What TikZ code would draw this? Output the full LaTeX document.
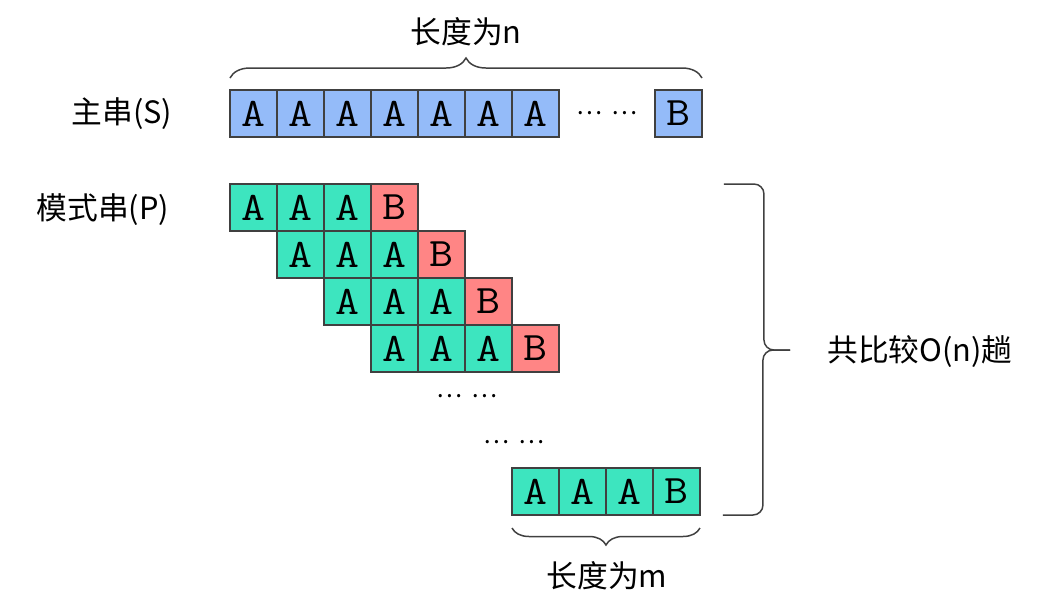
\documentclass[tikz,border=0pt]{standalone}
\usepackage{fontspec}
\setmainfont{Noto Sans CJK SC}
\setmonofont[FakeStretch=1.15]{Latin Modern Mono}
\usepackage{tikz}
\usetikzlibrary{positioning, decorations.pathreplacing, calc}

\definecolor{strblue}{HTML}{94BBF9}
\definecolor{patgreen}{HTML}{3DE5BF}
\definecolor{patred}{HTML}{FF8585}
\definecolor{linegray}{HTML}{404040}

\begin{document}
\begin{tikzpicture}[
  x=0.02cm, y=-0.02cm,
  node distance=0pt,
  cell/.style={draw=linegray, line width=1.1pt, minimum size=0.94cm, inner sep=0pt, outer sep=0pt, anchor=north west, font=\ttfamily\fontsize{23}{23}\selectfont},
  sbox/.style={cell, fill=strblue},
  abox/.style={cell, fill=patgreen},
  bbox/.style={cell, fill=patred},
  tag/.style={font=\fontsize{17.5}{20}\selectfont, inner sep=0pt},
  dots/.style={font=\fontsize{14}{17}\selectfont, inner sep=0pt},
  brace/.style={draw=linegray, line width=0.85pt, decorate, decoration={brace, amplitude=#1}},
  bracket/.style={draw=linegray, line width=0.85pt, rounded corners=0.2cm},
]
  \useasboundingbox (0,0) rectangle (1040,603);

  % Main string S
  \node (s1) [sbox] at (230,90) {A};
  \foreach \i [count=\j from 2] in {1,...,6} {
    \node (s\j) [sbox, right=of s\i] {A};
  }
  \node (sdots) [dots] at (607,113) {…\hspace{0.4em}…};
  \node (sB) [sbox] at (655,90) {B};

  % Pattern P, shifted one cell per trial
  \foreach \r in {1,...,4} {
    \node (p\r-1) [abox] at ({230+47*(\r-1)}, {184+47*(\r-1)}) {A};
    \node (p\r-2) [abox, right=of p\r-1] {A};
    \node (p\r-3) [abox, right=of p\r-2] {A};
    \node (p\r-4) [bbox, right=of p\r-3] {B};
  }
  \node (pdots1) [dots] at (467,396) {…\hspace{0.4em}…};
  \node (pdots2) [dots] at (514,442) {…\hspace{0.4em}…};

  % Last trial
  \node (q1) [abox] at (512,468) {A};
  \node (q2) [abox, right=of q1] {A};
  \node (q3) [abox, right=of q2] {A};
  \node (q4) [abox, right=of q3] {B};

  % Labels on the left
  \node (mainlbl) [tag] at (122,114) {主串(S)};
  \node (patlbl) [tag] at (103,210) {模式串(P)};

  % Length of S
  \coordinate (nL) at ($(s1.north west)+(0,-12)$);
  \coordinate (nR) at ($(sB.north east)+(0,-12)$);
  \draw [brace=0.4cm] (nL) -- (nR);
  \node (nlbl) [tag] at (466,32) {长度为n};

  % Length of P
  \coordinate (mL) at ($(q1.south west)+(0,13)$);
  \coordinate (mR) at ($(q4.south east)+(0,13)$);
  \draw [brace=0.34cm] (mR) -- (mL);
  \node (mlbl) [tag] at (607,576) {长度为m};

  % Number of trials
  \coordinate (tTop) at ($(p1-4.north east)+(306,0)$);
  \coordinate (tBot) at ($(q4.south east)+(23,0)$);
  \draw [bracket] (tTop) -- ++(40,0) |- (790,350);
  \draw [bracket] (tBot) -- ++(40,0) |- (790,350);
  \node (trlbl) [tag] at (920,352) {共比较O(n)趟};
\end{tikzpicture}
\end{document}
